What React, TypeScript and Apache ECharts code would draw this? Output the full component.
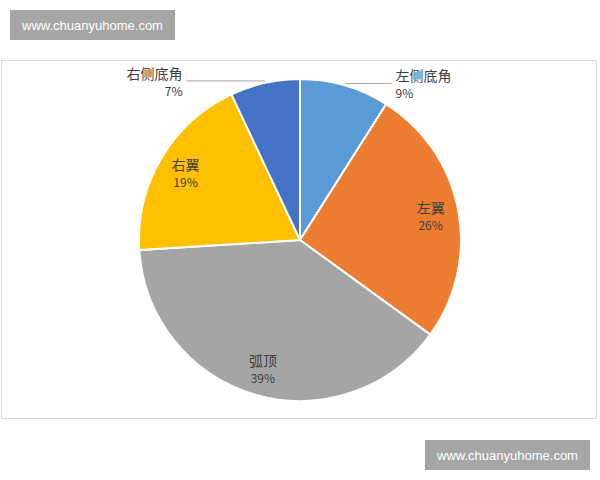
import React, { useEffect, useRef } from "react";
import * as echarts from "echarts";

const categories = ["左侧底角", "左翼", "弧顶", "右翼", "右侧底角"];
const values = [9, 26, 39, 19, 7];
const colors = ["#5B9BD5", "#ED7D31", "#A5A5A5", "#FFC000", "#4472C4"];
const outsideLabelNames = ["左侧底角", "右侧底角"];
const watermark = "www.chuanyuhome.com";

const FONT = "'Noto Sans CJK SC', 'Noto Sans', sans-serif";

export default function App() {
  const ref = useRef<HTMLDivElement>(null);
  useEffect(() => {
    if (!ref.current) return;
    const chart = echarts.init(ref.current, undefined, { renderer: "svg" });
    const richLabel = {
      n: { fontSize: 14, color: "#404040", fontFamily: FONT, lineHeight: 19 },
      p: { fontSize: 12, color: "#404040", fontFamily: FONT, lineHeight: 16 },
    };
    const fmt = (p: any) => `{n|${p.name}}\n{p|${Math.round(p.percent)}%}`;

    const mainData = categories.map((name, i) => {
      const outside = outsideLabelNames.includes(name);
      return {
        name,
        value: values[i],
        itemStyle: { color: colors[i] },
        label: { show: outside },
        labelLine: {
          show: outside,
          length: 2,
          length2: name === "右侧底角" ? 78 : 46,
        },
      };
    });
    const innerLabelData = categories.map((name, i) => ({
      name,
      value: values[i],
      label: { show: !outsideLabelNames.includes(name) },
    }));

    chart.setOption({
      animation: false,
      graphic: [
        {
          type: "rect",
          shape: { x: 1.5, y: 60.5, width: 595, height: 358 },
          style: { fill: "#fff", stroke: "#d9d9d9", lineWidth: 1 },
          z: -10,
        },
        {
          type: "rect",
          shape: { x: 10, y: 10, width: 165, height: 30 },
          style: { fill: "#a6a6a6" },
        },
        {
          type: "text",
          x: 92.5,
          y: 25,
          style: {
            text: watermark,
            fill: "#fff",
            fontSize: 13,
            fontFamily: "'Liberation Sans', Arial, sans-serif",
            align: "center",
            verticalAlign: "middle",
          },
        },
        {
          type: "rect",
          shape: { x: 425, y: 440, width: 165, height: 30 },
          style: { fill: "#a6a6a6" },
        },
        {
          type: "text",
          x: 507.5,
          y: 455,
          style: {
            text: watermark,
            fill: "#fff",
            fontSize: 13,
            fontFamily: "'Liberation Sans', Arial, sans-serif",
            align: "center",
            verticalAlign: "middle",
          },
        },
      ],
      series: [
        {
          type: "pie",
          center: [300, 240],
          radius: [0, 161],
          startAngle: 90,
          clockwise: true,
          silent: true,
          avoidLabelOverlap: false,
          itemStyle: { borderColor: "#fff", borderWidth: 2 },
          label: {
            position: "outside",
            formatter: fmt,
            rich: richLabel,
            align: "center",
            distanceToLabelLine: 4,
          },
          labelLine: {
            lineStyle: { color: "#a6a6a6", width: 1 },
            smooth: false,
          },
          emphasis: { disabled: true },
          data: mainData,
        },
        {
          type: "pie",
          center: [300, 240],
          radius: [0, 260],
          startAngle: 90,
          clockwise: true,
          silent: true,
          itemStyle: { color: "rgba(0,0,0,0)", borderWidth: 0 },
          label: {
            position: "inside",
            formatter: fmt,
            rich: richLabel,
            align: "center",
          },
          labelLine: { show: false },
          emphasis: { disabled: true },
          z: 5,
          data: innerLabelData,
        },
      ],
    });
    return () => chart.dispose();
  }, []);
  return (
    <div
      ref={ref}
      style={{ position: "absolute", left: 0, top: 0, width: 600, height: 480, background: "#fff" }}
    />
  );
}
